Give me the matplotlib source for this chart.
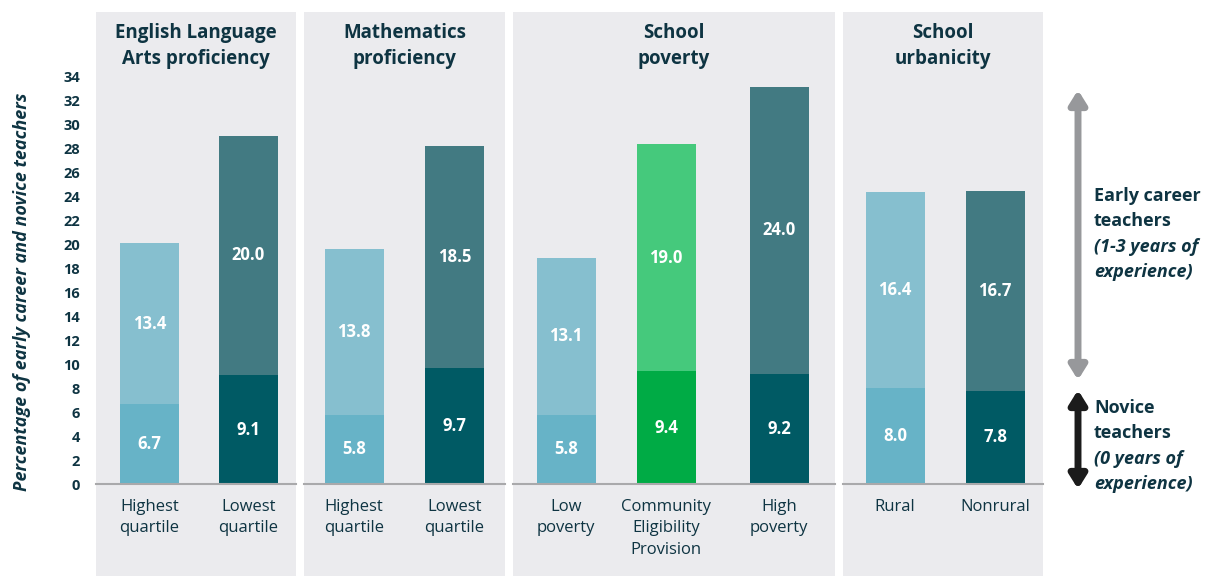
import matplotlib
matplotlib.use("Agg")
import matplotlib.pyplot as plt

plt.rcParams['font.family'] = ['Open Sans', 'DejaVu Sans']

# ---------------------------------------------------------------- data
groupes = ["English Language\nArts proficiency", "Mathematics\nproficiency",
           "School\npoverty", "School\nurbanicity"]
categories = ["Highest\nquartile", "Lowest\nquartile",
              "Highest\nquartile", "Lowest\nquartile",
              "Low\npoverty", "Community\nEligibility\nProvision", "High\npoverty",
              "Rural", "Nonrural"]
novices = [6.7, 9.1, 5.8, 9.7, 5.8, 9.4, 9.2, 8.0, 7.8]
debut_carriere = [13.4, 20.0, 13.8, 18.5, 13.1, 19.0, 24.0, 16.4, 16.7]
teintes = ["clair", "fonce", "clair", "fonce", "clair", "vert", "fonce", "clair", "fonce"]

# ---------------------------------------------------------------- mise en page (pixels)
W, H = 1209, 576
Y0, Y34 = 484, 77                      # pixel de 0 et de 34
PX = (Y0 - Y34) / 34.0
panneaux = [(96, 296), (304, 505), (513, 835), (843, 1043)]
centres = [149.5, 248.5, 354, 454.5, 566, 666, 779, 895, 995]
LARGEUR = 59

COULEURS = {
    "clair": ("#67b3c7", "#86bfcf"),
    "fonce": ("#005a64", "#427a82"),
    "vert":  ("#00ab45", "#45c97c"),
}
TXT = "#0e3442"

def py(p):  # pixel vertical -> donnee
    return (Y0 - p) / PX

fig = plt.figure(figsize=(W / 100, H / 100), dpi=100)
ax = fig.add_axes([96 / W, (H - Y0) / H, (1041 - 96) / W, (Y0 - Y34) / H])
ax.set_xlim(96, 1041)
ax.set_ylim(0, 34)
for s in ax.spines.values():
    s.set_visible(False)
ax.set_facecolor("none")

# panneaux gris
for x0, x1 in panneaux:
    r = plt.Rectangle((x0, py(H)), x1 - x0, py(12) - py(H), color="#ebebee",
                      zorder=0, clip_on=False, lw=0)
    ax.add_patch(r)
    ax.plot([x0, x1], [0, 0], color="#a9a9ab", lw=1.5, zorder=3, clip_on=False)

# barres
for i, (n, e, t) in enumerate(zip(novices, debut_carriere, teintes)):
    c_bas, c_haut = COULEURS[t]
    ax.bar(centres[i], n, width=LARGEUR, color=c_bas, zorder=2)
    ax.bar(centres[i], e, bottom=n, width=LARGEUR, color=c_haut, zorder=2)
    ax.text(centres[i], n / 2, f"{n:.1f}", ha="center", va="center", color="white",
            fontsize=12, fontweight="bold", zorder=4)
    ax.text(centres[i], n + e / 2, f"{e:.1f}", ha="center", va="center", color="white",
            fontsize=12, fontweight="bold", zorder=4)
    ax.text(centres[i], py(499), categories[i], ha="center", va="top", color=TXT,
            fontsize=12, linespacing=1.45, clip_on=False)

# titres des panneaux
for (x0, x1), g in zip(panneaux, groupes):
    ax.text((x0 + x1) / 2, py(46), g, ha="center", va="center", color=TXT,
            fontsize=13.5, fontweight="bold", linespacing=1.45, clip_on=False)

# axe y
ax.set_xticks([])
ax.set_yticks(range(0, 35, 2))
ax.tick_params(axis="y", length=0, pad=11.5, labelsize=10.5, labelcolor=TXT)
for lab in ax.get_yticklabels():
    lab.set_fontweight("bold")
ax.set_ylabel("Percentage of early career and novice teachers", fontsize=13,
              fontweight="bold", fontstyle="italic", color=TXT)
ax.yaxis.set_label_coords((31 - 96) / 945, (Y0 - 292) / (Y0 - Y34))

# fleches et legende a droite
XF = 1078
ax.annotate("", xy=(XF, py(90)), xytext=(XF, py(380)), annotation_clip=False,
            arrowprops=dict(arrowstyle="<|-|>,head_length=0.8,head_width=0.5",
                            color="#97989b", lw=5, shrinkA=0, shrinkB=0))
ax.annotate("", xy=(XF, py(390)), xytext=(XF, py(489)), annotation_clip=False,
            arrowprops=dict(arrowstyle="<|-|>,head_length=0.8,head_width=0.5",
                            color="#1b1b1b", lw=5, shrinkA=0, shrinkB=0))

XT = 1094
ax.text(XT, py(208.5), "Early career\nteachers", ha="left", va="center", color=TXT,
        fontsize=13, fontweight="bold", linespacing=1.5, clip_on=False)
ax.text(XT, py(259.5), "(1-3 years of\nexperience)", ha="left", va="center", color=TXT,
        fontsize=13, fontweight="bold", fontstyle="italic", linespacing=1.5, clip_on=False)
ax.text(XT, py(420.5), "Novice\nteachers", ha="left", va="center", color=TXT,
        fontsize=13, fontweight="bold", linespacing=1.5, clip_on=False)
ax.text(XT, py(471.5), "(0 years of\nexperience)", ha="left", va="center", color=TXT,
        fontsize=13, fontweight="bold", fontstyle="italic", linespacing=1.5, clip_on=False)

fig.savefig("out.png", dpi=100)
